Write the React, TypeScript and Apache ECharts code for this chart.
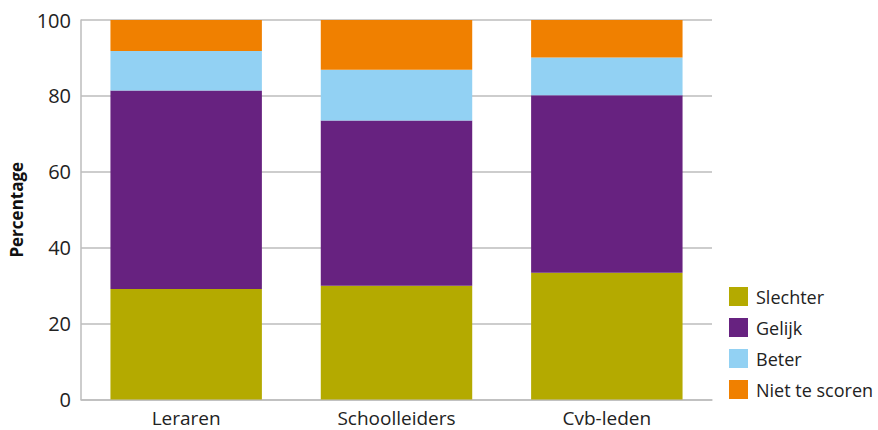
import React, { useEffect, useRef } from "react";
import * as echarts from "echarts";

const categories = ["Leraren", "Schoolleiders", "Cvb-leden"];
const slechter = [29.1, 30.0, 33.4];
const gelijk = [52.3, 43.5, 46.8];
const beter = [10.4, 13.4, 9.9];
const nietTeScoren = [8.2, 13.1, 9.9];
const yTicks = [0, 20, 40, 60, 80, 100];

const seriesDefs = [
  { name: "Slechter", data: slechter, color: "#b4aa00" },
  { name: "Gelijk", data: gelijk, color: "#672280" },
  { name: "Beter", data: beter, color: "#92d1f3" },
  { name: "Niet te scoren", data: nietTeScoren, color: "#f08000" },
];

const FONT = "'Open Sans', 'Noto Sans', sans-serif";

export default function App() {
  const ref = useRef<HTMLDivElement>(null);
  useEffect(() => {
    if (!ref.current) return;
    const chart = echarts.init(ref.current, null, { renderer: "svg" });
    chart.setOption({
      animation: false,
      textStyle: { fontFamily: FONT },
      grid: { left: 76, right: 166, top: 20, bottom: 30.5, containLabel: false },
      legend: {
        orient: "vertical",
        left: 729,
        top: 287,
        padding: 0,
        itemWidth: 19,
        itemHeight: 19,
        itemGap: 12,
        icon: "rect",
        textStyle: {
          fontSize: 18,
          lineHeight: 19,
          color: "#222",
          fontFamily: FONT,
          padding: [0, 0, 0, 3],
        },
        data: seriesDefs.map((s) => s.name),
      },
      xAxis: {
        type: "category",
        data: categories,
        axisLine: { show: true, lineStyle: { color: "#bdbdbd", width: 1.5 } },
        axisTick: { show: false },
        axisLabel: { fontSize: 19, color: "#222", margin: 9, fontFamily: FONT },
      },
      yAxis: {
        type: "value",
        min: yTicks[0],
        max: yTicks[yTicks.length - 1],
        interval: 20,
        name: "Percentage",
        nameLocation: "middle",
        nameGap: 56,
        nameTextStyle: { fontSize: 17, fontWeight: "bold", color: "#111", fontFamily: FONT },
        axisLine: { show: true, lineStyle: { color: "#bdbdbd", width: 1.5 } },
        axisTick: { show: false },
        axisLabel: {
          fontSize: 20,
          color: "#222",
          margin: 10,
          fontFamily: FONT,
          padding: [4, 0, 0, 0],
        },
        splitLine: { show: true, lineStyle: { color: "#bdbdbd", width: 1.5 } },
      },
      series: seriesDefs.map((s) => ({
        name: s.name,
        type: "bar",
        stack: "total",
        data: s.data,
        barWidth: "72%",
        itemStyle: { color: s.color },
      })),
    });
    return () => chart.dispose();
  }, []);
  return <div ref={ref} style={{ width: 878, height: 430, position: "absolute", left: 0, top: 0 }} />;
}
